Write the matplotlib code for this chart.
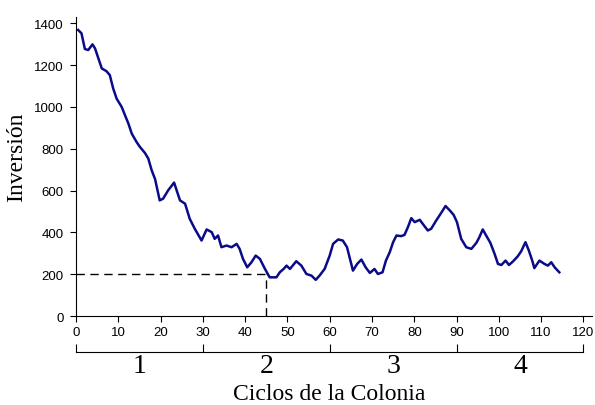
import numpy as np
import matplotlib.pyplot as plt

# datos
ciclo = [0.5, 1.3, 2.1, 2.9, 3.9, 4.5, 5.3, 6.1, 7.2, 8.0, 8.8, 9.6, 10.8, 11.6,
         12.4, 13.2, 14.3, 15.1, 16.3, 17.1, 17.9, 18.7, 19.8, 20.6, 21.8, 23.2,
         24.6, 25.8, 26.9, 28.1, 29.7, 30.9, 32.1, 32.8, 33.6, 34.4, 35.6, 36.8,
         38.0, 38.7, 39.5, 40.5, 41.5, 42.5, 43.5, 44.7, 45.8, 47.4, 48.2, 49.1,
         49.8, 50.6, 52.1, 53.3, 54.5, 55.7, 56.7, 57.6, 58.8, 60.0, 60.8, 62.0,
         63.1, 64.1, 64.9, 65.5, 66.5, 67.5, 68.5, 69.5, 70.6, 71.4, 72.5, 73.3,
         74.2, 75.0, 75.8, 76.9, 77.7, 78.5, 79.3, 80.1, 81.3, 82.0, 83.2, 84.0,
         85.2, 86.4, 87.4, 88.4, 89.3, 90.1, 91.1, 92.3, 93.5, 94.7, 95.4, 96.2,
         97.0, 98.0, 99.0, 99.8, 100.6, 101.6, 102.4, 103.3, 104.5, 105.3, 106.3,
         107.1, 107.9, 108.4, 108.8, 109.6, 110.8, 111.6, 112.4, 113.2, 114.3]
inversion = [1368, 1352, 1277, 1272, 1299, 1280, 1232, 1184, 1171, 1152, 1088,
             1040, 1000, 960, 920, 872, 833, 809, 780, 753, 697, 655, 553, 561,
             601, 638, 553, 537, 465, 417, 361, 414, 401, 369, 385, 329, 337, 329,
             345, 321, 273, 233, 257, 289, 273, 225, 185, 185, 209, 225, 241, 225,
             262, 241, 201, 193, 173, 193, 225, 289, 345, 366, 361, 329, 265, 217,
             249, 270, 233, 206, 225, 201, 209, 265, 305, 353, 385, 382, 388, 425,
             468, 449, 460, 441, 409, 417, 457, 494, 526, 505, 484, 449, 369, 329,
             321, 350, 377, 414, 385, 350, 297, 249, 244, 265, 244, 260, 286, 310,
             353, 313, 265, 229, 241, 265, 249, 241, 257, 233, 209]

corte_x = 45
corte_y = 200
fases = ['1', '2', '3', '4']
limites_fase = [0, 30, 60, 90, 120]

plt.rcParams['font.family'] = ['Liberation Sans', 'DejaVu Sans']

fig = plt.figure(figsize=(5.95, 4.06), dpi=100)
ax = fig.add_axes([0.1277, 0.2192, 0.867, 0.7365])

ax.plot(ciclo, inversion, color='#0b0b8a', lw=1.8)
ax.plot([0, corte_x], [corte_y, corte_y], color='black', lw=1, dashes=(6, 4))
ax.plot([corte_x, corte_x], [0, corte_y], color='black', lw=1, dashes=(6, 4))

ax.set_xlim(0, 122)
ax.set_ylim(0, 1430)
ax.set_xticks(np.arange(0, 121, 10))
ax.set_yticks(np.arange(0, 1401, 200))
ax.spines['top'].set_visible(False)
ax.spines['right'].set_visible(False)
ax.tick_params(direction='out', length=4, labelsize=9.5, colors='black')
ax.tick_params(axis='y', pad=5)
ax.set_ylabel('Inversión', family='Liberation Serif', fontsize=17)
ax.yaxis.set_label_coords(-0.095, 0.535)

# corchete de fases de la colonia
ax2 = fig.add_axes([0.1277, 0.1305, 0.867 * 120 / 122, 0.001])
ax2.set_xlim(0, 120)
ax2.set_ylim(0, 1)
for s in ['top', 'right', 'left']:
    ax2.spines[s].set_visible(False)
ax2.set_yticks([])
ax2.set_xticks(limites_fase)
ax2.set_xticklabels([])
ax2.tick_params(axis='x', which='major', direction='in', length=6)
ax2.set_xticks([15, 45, 75, 105], minor=True)
ax2.set_xticklabels(fases, minor=True, family='Liberation Serif', fontsize=20)
ax2.tick_params(axis='x', which='minor', length=0, pad=1)

fig.text(0.1277 + 0.867 * 60 / 122, 1 - 395 / 406, 'Ciclos de la Colonia',
         family='Liberation Serif', fontsize=17, ha='center', va='center')

fig.savefig('out.png', dpi=100)
